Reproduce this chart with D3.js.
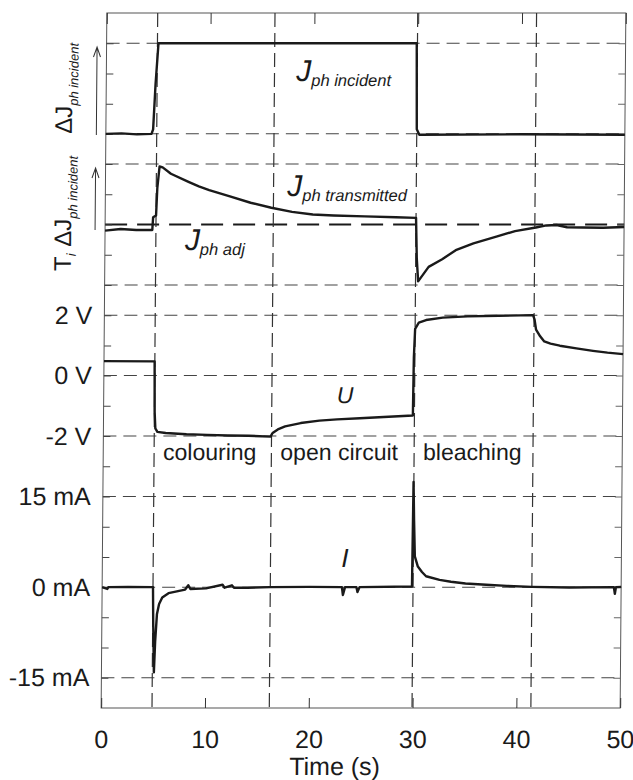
<!DOCTYPE html>
<html>
<head>
<meta charset="utf-8">
<script src="https://cdn.jsdelivr.net/npm/d3@7"></script>
<style>
body { margin: 0; background: #fff; }
svg { display: block; font-family: "Liberation Sans", Arial, sans-serif; }
</style>
</head>
<body>
<svg width="633" height="780"></svg>
<script>
// ---- data ----
// switching instants (s) and the phase names between them
var tEvents = [4.9, 16.2, 29.95, 41.4];
var phaseNames = ["colouring", "open circuit", "bleaching"];
var xTicks = [0, 10, 20, 30, 40, 50];
var uTicks = [-2, 0, 2];      // V
var iTicks = [-15, 0, 15];    // mA

// incident photon flux, normalised (0 = dark, 1 = lamp on)
var incident = [[0,0],[1.5,0.005],[3,-0.005],[4.4,0],[4.55,0.05],[4.75,0.55],[5.0,1.0],[10,1.0],[20,1.0],
  [29.88,1.0],[29.95,0.05],[30.2,-0.01],[40,-0.005],[50,-0.01]];

// transmitted flux, same units, relative to J_ph adj
var transmitted = [[0,-0.067],[1.5,-0.05],[3,-0.06],[4.55,-0.06],[4.62,0.08],[4.9,0.1],[5.0,0.4],[5.2,0.64],
  [5.5,0.63],[6.3,0.56],[8,0.47],[9,0.42],[10,0.38],[12,0.31],[14,0.24],[16,0.185],[18,0.14],[20,0.11],
  [22,0.1],[25,0.09],[28,0.08],[29.95,0.073],[30.05,-0.37],[30.2,-0.627],[31.2,-0.467],[32.5,-0.383],
  [33.8,-0.283],[35.5,-0.207],[37.7,-0.133],[39.5,-0.073],[41.5,-0.033],[42.5,-0.01],[43.5,-0.005],
  [44.5,-0.03],[46,-0.033],[48,-0.035],[50,-0.027]];

// cell voltage U (V)
var voltage = [[0,0.48],[4.88,0.47],[4.92,-1.2],[5.0,-1.75],[5.2,-1.86],[6,-1.9],[8,-1.94],[10,-1.96],
  [12,-1.98],[14,-1.99],[16.1,-2.02],[16.3,-1.9],[16.8,-1.78],[17.5,-1.68],[19,-1.57],[20.8,-1.49],
  [22.5,-1.45],[24.7,-1.41],[27,-1.37],[29.8,-1.32],[29.85,0.6],[29.95,1.55],[30.3,1.75],[31,1.84],
  [32.6,1.92],[35,1.96],[38,1.98],[41.3,2.0],[41.45,1.85],[41.6,1.52],[42,1.3],[42.4,1.13],[43,1.06],
  [43.9,0.99],[45.5,0.9],[47.1,0.82],[48.5,0.76],[50,0.71]];

// cell current I (mA)
var current = [[0,0],[0.5,-0.3],[0.6,0],[2.5,0.05],[4.9,0],[4.95,-6],[5.05,-14.1],[5.15,-9],[5.3,-4.5],
  [5.5,-2.8],[5.8,-1.7],[6.4,-1],[7.2,-0.7],[8,-0.4],[8.3,0.3],[8.5,-0.3],[10,-0.2],[11.6,0.4],[11.8,-0.1],
  [12.5,0.3],[12.7,-0.1],[14,-0.1],[16.2,0],[20,0.05],[23.1,0],[23.2,-1.3],[23.4,0],[24.5,0],[24.6,-0.8],
  [24.8,0],[29.85,0.1],[29.92,17.4],[30.0,11],[30.1,5.1],[30.4,3.4],[30.8,2.5],[31.2,1.8],[32.5,1.2],
  [33.6,0.9],[35,0.6],[37,0.4],[39,0.2],[41.4,0.05],[45,-0.05],[49.3,0],[49.4,-1.1],[49.5,0],[50,0.05]];

// ---- layout ----
var svg = d3.select("svg");
var plotL = 104, plotR = 623, plotT = 13, plotB = 708;
// the scanned figure is slightly sheared
var g = svg.append("g")
  .attr("transform", "translate(0,360) skewX(-0.47) translate(0,-360)");

var x = d3.scaleLinear().domain([0, 50]).range([plotL, plotR]);
// one shared row grid, every trace lives in its own band of it
var rows = d3.scaleLinear().domain([0, 23]).range([plotB, plotT]);
var yInc = d3.scaleLinear().domain([0, 1]).range([rows(19), rows(22)]);
var yTra = d3.scaleLinear().domain([0, 1]).range([rows(16), rows(19)]);
var yU = d3.scaleLinear().domain([-2, 2]).range([rows(9), rows(13)]);
var yI = d3.scaleLinear().domain([-15, 15]).range([rows(1), rows(7)]);
var gridRows = [22, 19, 18, 14, 13, 11, 9, 7, 4, 1];

var ink = "#1a1a1a";

// frame
g.append("rect")
  .attr("x", plotL).attr("y", plotT)
  .attr("width", plotR - plotL).attr("height", plotB - plotT)
  .attr("fill", "none").attr("stroke", "#555").attr("stroke-width", 1);

// horizontal dashed grid
g.append("g").selectAll("line")
  .data(gridRows).enter().append("line")
  .attr("x1", plotL).attr("x2", plotR)
  .attr("y1", function (d) { return rows(d); })
  .attr("y2", function (d) { return rows(d); })
  .attr("stroke", "#444").attr("stroke-width", 1)
  .attr("stroke-dasharray", "13,7");

// J_ph adj reference
g.append("line")
  .attr("x1", plotL).attr("x2", plotR)
  .attr("y1", yTra(0)).attr("y2", yTra(0))
  .attr("stroke", ink).attr("stroke-width", 2.2)
  .attr("stroke-dasharray", "22,10");

// switching instants
g.append("g").selectAll("line")
  .data(tEvents).enter().append("line")
  .attr("x1", function (d) { return x(d); })
  .attr("x2", function (d) { return x(d); })
  .attr("y1", plotT).attr("y2", plotB)
  .attr("stroke", "#333").attr("stroke-width", 1.2)
  .attr("stroke-dasharray", "14,6");

// minor ticks on the four sides
var rowTicks = d3.range(1, 23);
g.append("g").attr("transform", "translate(" + plotL + ",0)")
  .call(d3.axisLeft(rows).tickValues(rowTicks).tickSize(-7).tickFormat(""))
  .call(function (a) { a.select(".domain").remove(); a.selectAll("line").attr("stroke", "#444"); });
g.append("g").attr("transform", "translate(" + plotR + ",0)")
  .call(d3.axisRight(rows).tickValues(rowTicks).tickSize(-7).tickFormat(""))
  .call(function (a) { a.select(".domain").remove(); a.selectAll("line").attr("stroke", "#666"); });
g.append("g").attr("transform", "translate(0," + plotT + ")")
  .call(d3.axisTop(x).tickValues(xTicks).tickSize(-11).tickFormat(""))
  .call(function (a) { a.select(".domain").remove(); a.selectAll("line").attr("stroke", "#333"); });

// bottom axis with labels
g.append("g").attr("transform", "translate(0," + plotB + ")")
  .call(d3.axisBottom(x).tickValues(xTicks).tickSize(-10))
  .call(function (a) {
    a.select(".domain").remove();
    a.selectAll("line").attr("stroke", "#333");
    a.selectAll("text").attr("y", 40).attr("dy", null)
      .attr("font-size", 25).attr("fill", ink)
      .attr("font-family", "Liberation Sans, Arial, sans-serif");
  });

g.append("text")
  .attr("x", 338).attr("y", 775)
  .attr("text-anchor", "middle")
  .attr("font-size", 25).attr("fill", ink)
  .text("Time (s)");

// left value labels
function sideLabels(scale, ticks, unit) {
  g.append("g").attr("transform", "translate(" + plotL + ",0)")
    .call(d3.axisLeft(scale).tickValues(ticks).tickSize(0).tickPadding(12)
      .tickFormat(function (d) { return d + " " + unit; }))
    .call(function (a) {
      a.select(".domain").remove();
      a.selectAll("text").attr("font-size", 25).attr("fill", ink)
        .attr("font-family", "Liberation Sans, Arial, sans-serif");
    });
}
sideLabels(yU, uTicks, "V");
sideLabels(yI, iTicks, "mA");

// rotated labels of the two optical traces
var lab1 = g.append("text")
  .attr("transform", "translate(70," + rows(19) + ") rotate(-90)")
  .attr("fill", ink);
lab1.append("tspan").attr("font-size", 24).text("\u0394J");
lab1.append("tspan").attr("font-size", 13).attr("font-style", "italic").attr("dy", 6).text("ph incident");

var lab2 = g.append("text")
  .attr("transform", "translate(70,271) rotate(-90)")
  .attr("fill", ink);
lab2.append("tspan").attr("font-size", 24).text("T");
lab2.append("tspan").attr("font-size", 13).attr("font-style", "italic").attr("dy", 5).text("i");
lab2.append("tspan").attr("font-size", 24).attr("dy", -5).text(" \u0394J");
lab2.append("tspan").attr("font-size", 13).attr("font-style", "italic").attr("dy", 6).text("ph incident");

// arrows next to them
function upArrow(ax, y0, y1) {
  g.append("path")
    .attr("d", "M" + ax + "," + y0 + "V" + y1 + "M" + (ax - 3.5) + "," + (y1 + 10) + "L" + ax + "," + y1 + "L" + (ax + 3.5) + "," + (y1 + 10))
    .attr("fill", "none").attr("stroke", "#333").attr("stroke-width", 1);
}
upArrow(94.5, 135, 47);
upArrow(94, 230, 168);

// traces
function trace(data, y) {
  g.append("path")
    .datum(data)
    .attr("fill", "none")
    .attr("stroke", ink)
    .attr("stroke-width", 2.4)
    .attr("stroke-linejoin", "round")
    .attr("d", d3.line().x(function (d) { return x(d[0]); }).y(function (d) { return y(d[1]); }));
}
trace(incident, yInc);
trace(transmitted, yTra);
trace(voltage, yU);
trace(current, yI);

// names inside the plot
function jLabel(px, py, sub) {
  var t = g.append("text").attr("x", px).attr("y", py).attr("fill", ink).attr("font-style", "italic");
  t.append("tspan").attr("font-size", 30).text("J");
  t.append("tspan").attr("font-size", 16.5).attr("dy", 5).text(sub);
}
jLabel(294, 81, "ph incident");
jLabel(286, 196, "ph transmitted");
jLabel(184, 250, "ph adj");

g.append("text").attr("x", 337).attr("y", 403)
  .attr("font-size", 23).attr("font-style", "italic").attr("fill", ink).text("U");
g.append("text").attr("x", 343).attr("y", 567)
  .attr("font-size", 26).attr("font-style", "italic").attr("fill", ink).text("I");

// phase names
g.append("g").selectAll("text")
  .data(phaseNames).enter().append("text")
  .attr("x", function (d, i) { return x(tEvents[i]) + 9; })
  .attr("y", 460)
  .attr("font-size", 23).attr("fill", ink)
  .text(function (d) { return d; });
</script>
</body>
</html>
